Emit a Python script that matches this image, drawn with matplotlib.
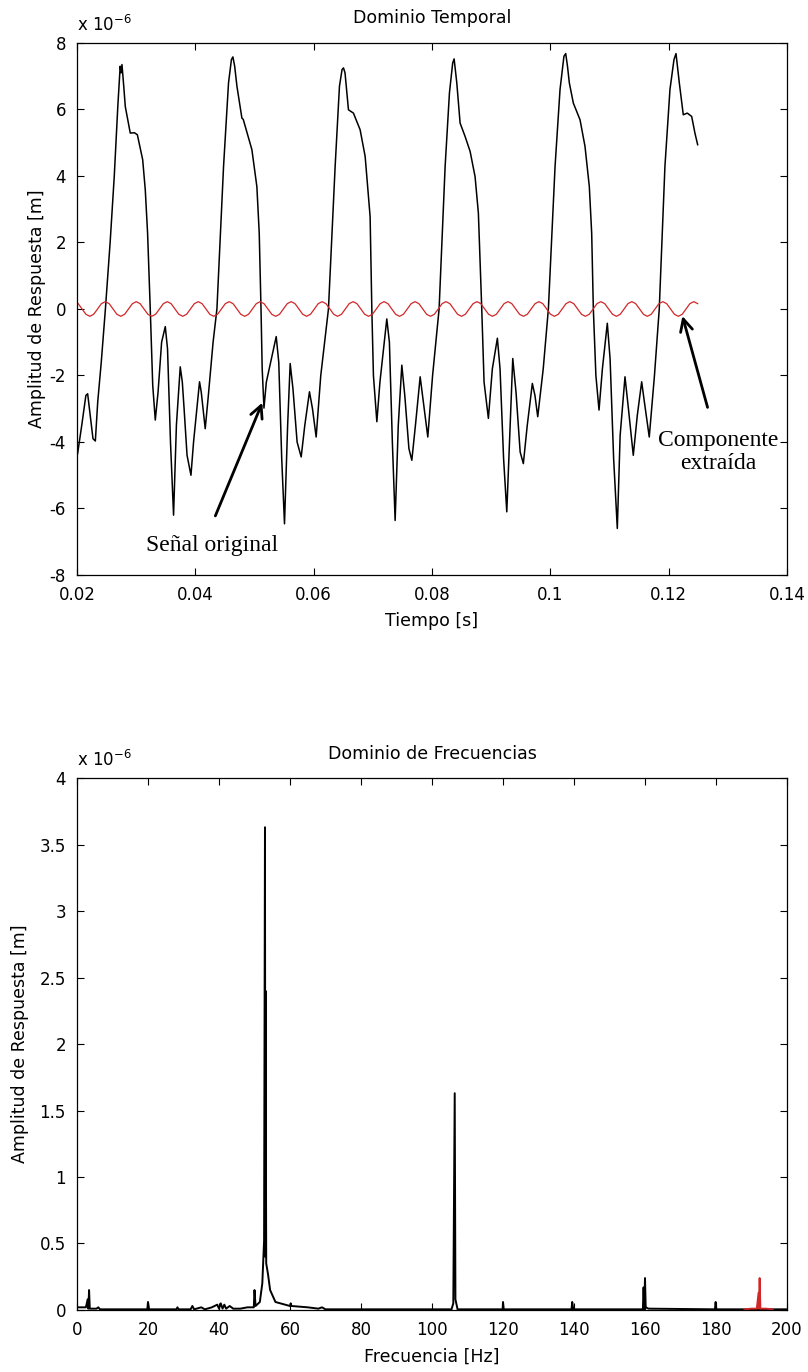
import matplotlib.pyplot as plt
import numpy as np

# time domain: original signal (t [s], amplitude [x1e-6 m])
sig_t = [0.0201, 0.0208, 0.0215, 0.0218, 0.0221, 0.0227, 0.0231, 0.0235, 0.0241, 0.0248,
         0.0256, 0.0263, 0.0269, 0.0273, 0.02745, 0.0276, 0.0279, 0.02816, 0.0290, 0.0297,
         0.0302, 0.0311, 0.03154, 0.03193, 0.03238, 0.0328, 0.03323, 0.0337, 0.0343, 0.03492,
         0.0353, 0.0358, 0.03632, 0.0368, 0.03745, 0.0378, 0.0381, 0.0386, 0.03926, 0.0397,
         0.04071, 0.0410, 0.04167, 0.0422, 0.0430, 0.04365, 0.04477, 0.04561, 0.0461, 0.04635,
         0.04665, 0.04703, 0.04787, 0.0481, 0.04956, 0.0504, 0.0508, 0.0511, 0.0513, 0.0516,
         0.0520, 0.05367, 0.0541, 0.0546, 0.05507, 0.0556, 0.05603, 0.0565, 0.0572, 0.05789,
         0.0585, 0.05929, 0.0598, 0.06042, 0.0612, 0.0625, 0.06363, 0.06436, 0.0648, 0.06504,
         0.0653, 0.06588, 0.06672, 0.06785, 0.0687, 0.06954, 0.06983, 0.0701, 0.07068, 0.0712,
         0.07236, 0.0728, 0.0733, 0.07377, 0.0743, 0.0749, 0.0754, 0.0761, 0.07659, 0.0772,
         0.0780, 0.0784, 0.07929, 0.0801, 0.0812, 0.08222, 0.08295, 0.0835, 0.08374, 0.08419,
         0.08475, 0.08559, 0.08644, 0.08728, 0.08784, 0.08841, 0.0888, 0.08953, 0.0902, 0.09105,
         0.0915, 0.0921, 0.09264, 0.0932, 0.09365, 0.0942, 0.0949, 0.09544, 0.0961, 0.09696,
         0.0974, 0.09787, 0.0988, 0.09967, 0.1008, 0.10164, 0.1023, 0.1026, 0.1029, 0.10321,
         0.10389, 0.10502, 0.10586, 0.10659, 0.10699, 0.10727, 0.1077, 0.10823, 0.1088, 0.10963,
         0.1101, 0.1107, 0.11132, 0.1118, 0.11262, 0.1132, 0.11402, 0.1147, 0.11544, 0.1159,
         0.11672, 0.1176, 0.11841, 0.11937, 0.12022, 0.1209, 0.12124, 0.1218, 0.12247, 0.12315,
         0.12389, 0.12444, 0.1249]
sig_v = [-4.35, -3.5, -2.6, -2.55, -3.0, -3.9, -3.97, -2.8, -1.6, 0.0,
         2.0, 4.0, 6.1, 7.3, 7.1, 7.35, 6.7, 6.09, 5.29, 5.3,
         5.24, 4.49, 3.58, 2.28, 0.0, -2.3, -3.34, -2.5, -1.0, -0.53,
         -1.2, -4.0, -6.2, -3.5, -1.74, -2.2, -3.0, -4.4, -5.0, -4.0,
         -2.19, -2.5, -3.6, -2.6, -1.0, 0.0, 4.29, 6.8, 7.5, 7.58,
         7.3, 6.7, 5.74, 5.7, 4.79, 3.68, 2.28, 0.0, -1.8, -2.98,
         -2.2, -0.83, -1.6, -4.5, -6.46, -3.5, -1.64, -2.4, -4.0, -4.45,
         -3.5, -2.49, -3.0, -3.85, -2.0, 0.0, 4.29, 6.7, 7.2, 7.25,
         7.1, 5.99, 5.89, 5.39, 4.59, 2.78, 0.0, -2.0, -3.39, -2.2,
         -0.3, -1.0, -4.0, -6.36, -3.5, -1.69, -2.6, -4.2, -4.55, -3.5,
         -2.04, -2.6, -3.85, -2.0, 0.0, 4.29, 6.5, 7.4, 7.52, 6.8,
         5.59, 5.19, 4.74, 3.98, 2.88, 0.0, -2.2, -3.29, -1.8, -0.88,
         -1.8, -4.5, -6.1, -3.5, -1.49, -2.5, -4.3, -4.65, -3.5, -2.24,
         -2.6, -3.24, -1.8, 0.0, 4.29, 6.6, 7.6, 7.68, 7.3, 6.8,
         6.19, 5.69, 4.89, 3.68, 2.28, 0.0, -2.0, -3.04, -1.8, -0.43,
         -1.5, -4.5, -6.6, -3.8, -2.04, -3.0, -4.4, -3.2, -2.19, -2.8,
         -3.85, -2.0, 0.0, 4.29, 6.6, 7.5, 7.68, 6.8, 5.84, 5.89,
         5.79, 5.29, 4.94]

# extracted component, sampled at 8 points per cycle (~191 Hz)
comp_t = np.linspace(0.0202, 0.1249, 161)
comp_v = [0.16, 0.00, -0.16, -0.22, -0.16, 0.00, 0.16, 0.22,
          0.16, 0.00, -0.16, -0.22, -0.16, 0.00, 0.16, 0.22,
          0.16, 0.00, -0.16, -0.22, -0.16, 0.00, 0.16, 0.22,
          0.16, 0.00, -0.16, -0.22, -0.16, 0.00, 0.16, 0.22,
          0.16, 0.00, -0.16, -0.22, -0.16, 0.00, 0.16, 0.22,
          0.16, 0.00, -0.16, -0.22, -0.16, 0.00, 0.16, 0.22,
          0.16, 0.00, -0.16, -0.22, -0.16, 0.00, 0.16, 0.22,
          0.16, 0.00, -0.16, -0.22, -0.16, 0.00, 0.16, 0.22,
          0.16, 0.00, -0.16, -0.22, -0.16, 0.00, 0.16, 0.22,
          0.16, 0.00, -0.16, -0.22, -0.16, 0.00, 0.16, 0.22,
          0.16, 0.00, -0.16, -0.22, -0.16, 0.00, 0.16, 0.22,
          0.16, 0.00, -0.16, -0.22, -0.16, 0.00, 0.16, 0.22,
          0.16, 0.00, -0.16, -0.22, -0.16, 0.00, 0.16, 0.22,
          0.16, 0.00, -0.16, -0.22, -0.16, 0.00, 0.16, 0.22,
          0.16, 0.00, -0.16, -0.22, -0.16, 0.00, 0.16, 0.22,
          0.16, 0.00, -0.16, -0.22, -0.16, 0.00, 0.16, 0.22,
          0.16, 0.00, -0.16, -0.22, -0.16, 0.00, 0.16, 0.22,
          0.16, 0.00, -0.16, -0.22, -0.16, 0.00, 0.16, 0.22,
          0.16, 0.00, -0.16, -0.22, -0.16, 0.00, 0.16, 0.22,
          0.16, 0.00, -0.16, -0.22, -0.16, 0.00, 0.16, 0.22,
          0.16]

# frequency domain: spectrum of the original signal (Hz, x1e-6 m)
spec_f = [0, 2.5, 3.0, 3.2, 3.4, 3.6, 5.5, 6.0, 6.5, 19.8, 20.0, 20.3, 28.0, 28.3, 28.6,
          32.0, 32.5, 33.0, 35.0, 36.0, 38.0, 39.5, 40.0, 40.5, 41.0, 41.5, 42.0, 43.0, 44.0,
          46.0, 48.0, 49.8, 50.0, 50.3, 51.5, 52.2, 52.7, 52.95, 53.05, 53.1, 53.3, 53.8,
          54.4, 55.9, 60.0, 60.2, 60.4, 65.0, 68.0, 69.0, 70.0, 105.5, 106.0, 106.4, 106.6,
          107.2, 119.9, 120.0, 120.2, 139.3, 139.5, 139.8, 159.4, 159.6, 159.8, 160.0, 160.2,
          161.0, 179.7, 179.9, 180.1, 200.0]
spec_a = [0.02, 0.02, 0.08, 0.01, 0.15, 0.01, 0.01, 0.02, 0.005, 0.005, 0.06, 0.005, 0.005,
          0.02, 0.005, 0.005, 0.03, 0.005, 0.02, 0.005, 0.02, 0.04, 0.01, 0.05, 0.01, 0.04,
          0.01, 0.03, 0.01, 0.01, 0.02, 0.02, 0.15, 0.03, 0.06, 0.2, 0.52, 3.63, 0.4, 2.4,
          0.35, 0.27, 0.15, 0.06, 0.03, 0.05, 0.03, 0.02, 0.01, 0.02, 0.005, 0.005, 0.05,
          1.63, 0.08, 0.005, 0.005, 0.06, 0.005, 0.005, 0.06, 0.005, 0.005, 0.17, 0.005,
          0.24, 0.02, 0.01, 0.005, 0.06, 0.005, 0.005]

# spectrum of the extracted component
comp_f = [188.0, 190.0, 191.5, 192.0, 192.1, 192.3, 192.5, 194.0, 196.0]
comp_a = [0.005, 0.01, 0.01, 0.13, 0.01, 0.24, 0.01, 0.01, 0.005]

plt.rcParams['font.family'] = 'DejaVu Sans'
plt.rcParams['axes.unicode_minus'] = False
fig = plt.figure(figsize=(8.08, 13.72), dpi=100)


def matlab_axes(ax):
    ax.tick_params(direction='in', top=True, right=True, length=5, width=0.8,
                   labelsize=12, pad=8)
    for s in ax.spines.values():
        s.set_linewidth(0.9)


# top: time domain
ax1 = fig.add_axes([0.0953, 0.5809, 0.8787, 0.3878])
ax1.plot(sig_t, sig_v, color='black', lw=1.1)
ax1.plot(comp_t, comp_v, color='#d02828', lw=0.9)
ax1.set_xlim(0.02, 0.14)
ax1.set_ylim(-8, 8)
ax1.set_xticks([0.02, 0.04, 0.06, 0.08, 0.10, 0.12, 0.14])
ax1.set_xticklabels(['0.02', '0.04', '0.06', '0.08', '0.1', '0.12', '0.14'])
ax1.set_yticks(range(-8, 9, 2))
matlab_axes(ax1)
ax1.set_title('Dominio Temporal', fontsize=12.5, pad=14)
ax1.set_xlabel('Tiempo [s]', fontsize=12.5, labelpad=6)
ax1.set_ylabel('Amplitud de Respuesta [m]', fontsize=12.5)
ax1.yaxis.set_label_coords(-0.043, 0.5)
ax1.text(0.0, 1.015, r'x 10$^{-6}$', transform=ax1.transAxes, fontsize=12,
         ha='left', va='bottom')

ax1.annotate('', xy=(0.0515, -2.74), xytext=(0.0432, -6.3),
             arrowprops=dict(arrowstyle='->', lw=2, color='black', mutation_scale=22))
ax1.text(0.0428, -7.1, 'Señal original', family='Liberation Serif', fontsize=17,
         ha='center', va='center')
ax1.annotate('', xy=(0.1222, -0.13), xytext=(0.1267, -3.04),
             arrowprops=dict(arrowstyle='->', lw=2, color='black', mutation_scale=22))
ax1.text(0.12845, -4.3, 'Componente\nextraída', family='Liberation Serif', fontsize=17,
         ha='center', va='center', linespacing=1.1)

# bottom: frequency domain
ax2 = fig.add_axes([0.0953, 0.0452, 0.8787, 0.3877])
ax2.plot(spec_f, spec_a, color='black', lw=1.4)
ax2.plot(comp_f, comp_a, color='#d02828', lw=1.4)
ax2.set_xlim(0, 200)
ax2.set_ylim(0, 4)
ax2.set_xticks(range(0, 201, 20))
ax2.set_yticks([0, 0.5, 1, 1.5, 2, 2.5, 3, 3.5, 4])
ax2.set_yticklabels(['0', '0.5', '1', '1.5', '2', '2.5', '3', '3.5', '4'])
matlab_axes(ax2)
ax2.set_title('Dominio de Frecuencias', fontsize=12.5, pad=14)
ax2.set_xlabel('Frecuencia [Hz]', fontsize=12.5, labelpad=6)
ax2.set_ylabel('Amplitud de Respuesta [m]', fontsize=12.5)
ax2.yaxis.set_label_coords(-0.068, 0.5)
ax2.text(0.0, 1.015, r'x 10$^{-6}$', transform=ax2.transAxes, fontsize=12,
         ha='left', va='bottom')

fig.savefig('out.png', dpi=100)
